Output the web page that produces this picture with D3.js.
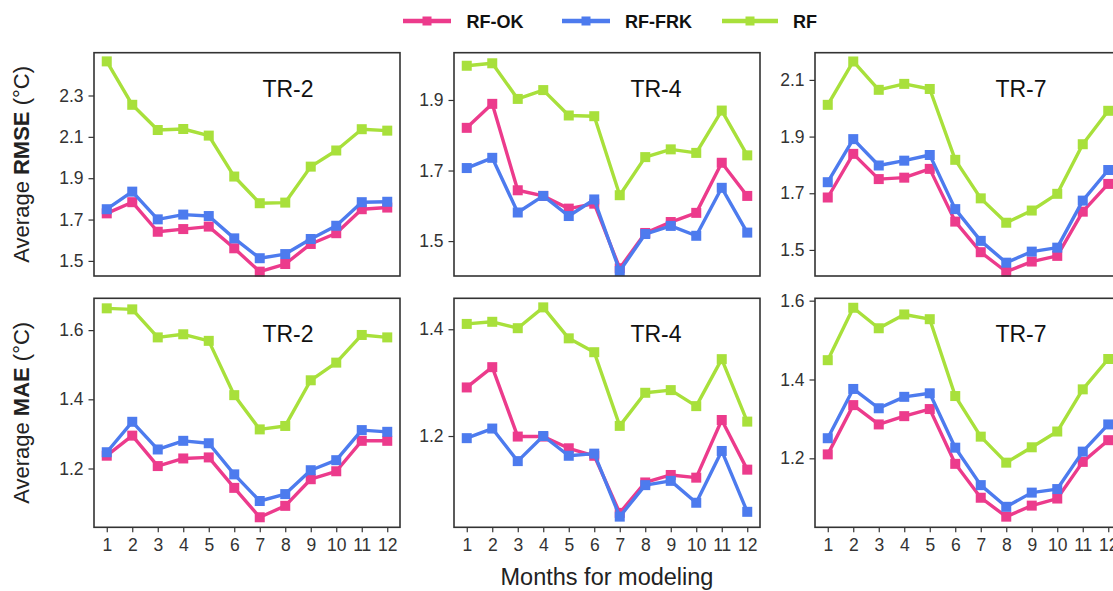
<!DOCTYPE html>
<html>
<head>
<meta charset="utf-8">
<script src="https://cdn.jsdelivr.net/npm/d3@7"></script>
<style>
  html, body { margin: 0; padding: 0; background: #fff; overflow: hidden; }
  svg { display: block; font-family: "Liberation Sans", Arial, Helvetica, sans-serif; }
</style>
</head>
<body>
<svg id="chart" width="1113" height="591"></svg>
<script>
// Months on the x axis
const months = [1, 2, 3, 4, 5, 6, 7, 8, 9, 10, 11, 12];
const seriesNames = ["RF-OK", "RF-FRK", "RF"];
const regions = ["TR-2", "TR-4", "TR-7"];
const metrics = ["RMSE", "MAE"];

// Average RMSE (°C) per month
const rmseTR2_ok  = [1.730, 1.784, 1.641, 1.654, 1.666, 1.561, 1.448, 1.485, 1.582, 1.634, 1.750, 1.758];
const rmseTR2_frk = [1.750, 1.835, 1.701, 1.724, 1.717, 1.609, 1.513, 1.533, 1.606, 1.670, 1.784, 1.786];
const rmseTR2_rf  = [2.465, 2.255, 2.133, 2.138, 2.106, 1.908, 1.779, 1.782, 1.956, 2.034, 2.137, 2.130];

const rmseTR4_ok  = [1.821, 1.889, 1.644, 1.628, 1.592, 1.606, 1.423, 1.523, 1.554, 1.580, 1.722, 1.628];
const rmseTR4_frk = [1.707, 1.736, 1.581, 1.628, 1.571, 1.618, 1.415, 1.520, 1.543, 1.515, 1.651, 1.524];
const rmseTR4_rf  = [1.997, 2.004, 1.903, 1.928, 1.856, 1.854, 1.630, 1.738, 1.760, 1.750, 1.870, 1.743];

const rmseTR7_ok  = [1.685, 1.839, 1.750, 1.755, 1.786, 1.600, 1.492, 1.423, 1.459, 1.479, 1.635, 1.733];
const rmseTR7_frk = [1.739, 1.891, 1.798, 1.815, 1.835, 1.644, 1.532, 1.455, 1.494, 1.508, 1.674, 1.782];
const rmseTR7_rf  = [2.012, 2.165, 2.065, 2.086, 2.068, 1.818, 1.682, 1.596, 1.639, 1.698, 1.873, 1.991];

// Average MAE (°C) per month
const maeTR2_ok  = [1.237, 1.295, 1.207, 1.229, 1.232, 1.144, 1.059, 1.092, 1.169, 1.192, 1.280, 1.280];
const maeTR2_frk = [1.247, 1.335, 1.255, 1.280, 1.273, 1.183, 1.106, 1.126, 1.195, 1.224, 1.311, 1.306];
const maeTR2_rf  = [1.663, 1.660, 1.579, 1.588, 1.569, 1.412, 1.313, 1.323, 1.455, 1.506, 1.586, 1.579];

const maeTR4_ok  = [1.291, 1.329, 1.199, 1.199, 1.177, 1.163, 1.056, 1.113, 1.127, 1.122, 1.230, 1.137];
const maeTR4_frk = [1.196, 1.214, 1.153, 1.200, 1.163, 1.167, 1.049, 1.108, 1.116, 1.075, 1.172, 1.058];
const maeTR4_rf  = [1.410, 1.414, 1.402, 1.441, 1.383, 1.357, 1.219, 1.281, 1.286, 1.256, 1.344, 1.227];

const maeTR7_ok  = [1.210, 1.335, 1.286, 1.307, 1.325, 1.186, 1.100, 1.052, 1.080, 1.098, 1.191, 1.246];
const maeTR7_frk = [1.251, 1.376, 1.327, 1.356, 1.365, 1.227, 1.132, 1.077, 1.113, 1.122, 1.217, 1.286];
const maeTR7_rf  = [1.449, 1.582, 1.530, 1.565, 1.553, 1.358, 1.255, 1.189, 1.228, 1.268, 1.375, 1.452];

// Y-axis limits and tick labels per panel (row-major: RMSE row, then MAE row)
const yLimits = [
  [1.427, 2.507], [1.401, 2.034], [1.408, 2.196],
  [1.030, 1.692], [1.029, 1.458], [1.025, 1.606]
];
const yTicks = [
  [1.5, 1.7, 1.9, 2.1, 2.3], [1.5, 1.7, 1.9], [1.5, 1.7, 1.9, 2.1],
  [1.2, 1.4, 1.6], [1.2, 1.4], [1.2, 1.4, 1.6]
];

const panelSeries = [
  [rmseTR2_ok, rmseTR2_frk, rmseTR2_rf],
  [rmseTR4_ok, rmseTR4_frk, rmseTR4_rf],
  [rmseTR7_ok, rmseTR7_frk, rmseTR7_rf],
  [maeTR2_ok, maeTR2_frk, maeTR2_rf],
  [maeTR4_ok, maeTR4_frk, maeTR4_rf],
  [maeTR7_ok, maeTR7_frk, maeTR7_rf]
];

// ---- styling / layout ----
const colors = { "RF-OK": "#ec3b8c", "RF-FRK": "#4d7bee", "RF": "#a8e03b" };
const drawOrder = [2, 0, 1]; // RF underneath, RF-FRK on top
const colLeft = [94, 454, 815];
const panelW = 306;
const rowTop = [52.7, 298.3];
const rowBottom = [276, 527.3];
const titleX = [288, 656, 1021];
const frameColor = "#333";
const textColor = "#333";
const tickFont = 17.5;

const svg = d3.select("#chart");

// Legend
const legend = svg.append("g").attr("class", "legend");
const legendItems = [
  { name: "RF-OK", x0: 403, x1: 451, tx: 466.5 },
  { name: "RF-FRK", x0: 562, x1: 610, tx: 625 },
  { name: "RF", x0: 722, x1: 778, tx: 793 }
];
legendItems.forEach(it => {
  const g = legend.append("g");
  g.append("line")
    .attr("x1", it.x0).attr("x2", it.x1).attr("y1", 21).attr("y2", 21)
    .attr("stroke", colors[it.name]).attr("stroke-width", 4.5);
  g.append("rect")
    .attr("x", (it.x0 + it.x1) / 2 - 4.5).attr("y", 21 - 4.5)
    .attr("width", 9).attr("height", 9)
    .attr("fill", colors[it.name]);
  g.append("text")
    .attr("x", it.tx).attr("y", 27.5)
    .attr("font-size", 18).attr("font-weight", "bold")
    .attr("fill", "#111")
    .text(it.name);
});

// Panels
panelSeries.forEach((series, i) => {
  const row = Math.floor(i / 3), col = i % 3;
  const x0 = colLeft[col], y0 = rowTop[row], y1 = rowBottom[row];

  const x = d3.scaleLinear().domain([0.5, 12.5]).range([x0, x0 + panelW]);
  const y = d3.scaleLinear().domain(yLimits[i]).range([y1, y0]);

  const g = svg.append("g").attr("class", "panel");

  // clip so marks stay inside the panel frame area
  const clipId = "clip" + i;
  svg.append("defs").append("clipPath").attr("id", clipId)
    .append("rect").attr("x", x0).attr("y", y0 - 6).attr("width", panelW).attr("height", y1 - y0 + 12);

  // y axis
  const yAxis = g.append("g")
    .attr("transform", `translate(${x0},0)`)
    .call(d3.axisLeft(y).tickValues(yTicks[i]).tickFormat(d3.format(".1f")).tickSize(5.5).tickPadding(5));
  yAxis.select(".domain").remove();
  yAxis.selectAll("line").attr("stroke", frameColor).attr("stroke-width", 1.2);
  yAxis.selectAll("text").attr("font-size", tickFont).attr("fill", textColor)
    .attr("font-family", "Liberation Sans, Arial, sans-serif");

  // x axis (bottom row only)
  if (row === 1) {
    const xAxis = g.append("g")
      .attr("transform", `translate(0,${y1})`)
      .call(d3.axisBottom(x).tickValues(months).tickFormat(d3.format("d")).tickSize(5).tickPadding(6.5));
    xAxis.select(".domain").remove();
    xAxis.selectAll("line").attr("stroke", frameColor).attr("stroke-width", 1.2);
    xAxis.selectAll("text").attr("font-size", tickFont).attr("fill", textColor)
      .attr("font-family", "Liberation Sans, Arial, sans-serif");
  }

  // series lines and square markers
  const marks = g.append("g").attr("clip-path", `url(#${clipId})`);
  const line = d3.line().x((d, k) => x(months[k])).y(d => y(d));
  drawOrder.forEach(s => {
    const name = seriesNames[s];
    const vals = series[s];
    marks.append("path")
      .datum(vals)
      .attr("fill", "none")
      .attr("stroke", colors[name])
      .attr("stroke-width", 3.4)
      .attr("stroke-linejoin", "round")
      .attr("d", line);
    marks.selectAll(null)
      .data(vals)
      .enter().append("rect")
      .attr("x", (d, k) => x(months[k]) - 5)
      .attr("y", d => y(d) - 5)
      .attr("width", 10).attr("height", 10)
      .attr("fill", colors[name]);
  });

  // panel frame
  g.append("rect")
    .attr("x", x0).attr("y", y0)
    .attr("width", panelW).attr("height", y1 - y0)
    .attr("fill", "none").attr("stroke", frameColor).attr("stroke-width", 1.6);

  // region title
  g.append("text")
    .attr("x", titleX[col]).attr("y", y0 + 44)
    .attr("text-anchor", "middle")
    .attr("font-size", 23)
    .attr("fill", "#111")
    .text(regions[col]);
});

// Y-axis titles with bold metric name
metrics.forEach((m, r) => {
  const cy = (rowTop[r] + rowBottom[r]) / 2;
  const t = svg.append("text")
    .attr("transform", `translate(28.5,${cy}) rotate(-90)`)
    .attr("text-anchor", "middle")
    .attr("font-size", 22)
    .attr("fill", "#222");
  t.append("tspan").text("Average ");
  t.append("tspan").attr("font-weight", "bold").text(m);
  t.append("tspan").text(" (°C)");
});

// X-axis title
svg.append("text")
  .attr("x", 607).attr("y", 584.5)
  .attr("text-anchor", "middle")
  .attr("font-size", 23.5)
  .attr("fill", "#222")
  .text("Months for modeling");
</script>
</body>
</html>
